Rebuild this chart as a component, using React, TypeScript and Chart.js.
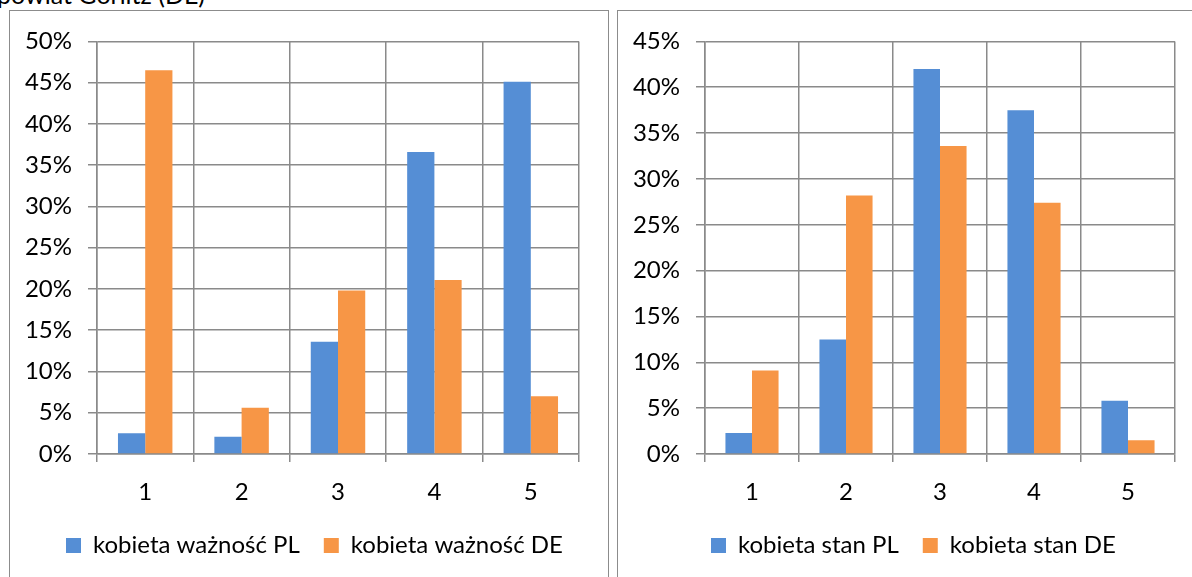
import React, { useEffect, useRef } from 'react';
import { Chart, registerables } from 'chart.js';

Chart.register(...registerables);

// ---- data ----
const categories = ['1', '2', '3', '4', '5'];
const importanceLabels = ['kobieta ważność PL', 'kobieta ważność DE'];
const importancePL = [2.5, 2.1, 13.6, 36.6, 45.1];
const importanceDE = [46.5, 5.6, 19.8, 21.1, 7.0];
const stateLabels = ['kobieta stan PL', 'kobieta stan DE'];
const statePL = [2.3, 12.5, 42.0, 37.5, 5.8];
const stateDE = [9.1, 28.2, 33.6, 27.4, 1.5];
const importanceMax = 50;
const stateMax = 45;
const tickStep = 5;
const caption = 'powiat Görlitz (DE)';

const BLUE = '#558ED5';
const ORANGE = '#F79646';
const GRID = '#8a8a8a';
const FONT = 'Lato';

type Cfg = {
  left: number;
  top: number;
  width: number;
  height: number;
  padTop: number;
  padBottom: number;
  yWidth: number;
  rightWidth: number;
  xHeight: number;
  legendDx: number;
};

// shifts the legend box horizontally after layout
const legendShift = {
  id: 'legendShift',
  afterLayout(chart: any, _args: any, opts: any) {
    const l = chart.legend;
    if (!l || !opts || !opts.dx) return;
    l.left += opts.dx;
    l.right += opts.dx;
  },
};

function BarChart({ labels, pl, de, max, cfg }: { labels: string[]; pl: number[]; de: number[]; max: number; cfg: Cfg }) {
  const ref = useRef<HTMLCanvasElement | null>(null);
  useEffect(() => {
    if (!ref.current) return;
    const chart = new Chart(ref.current, {
      type: 'bar',
      data: {
        labels: categories,
        datasets: [
          { label: labels[0], data: pl, backgroundColor: BLUE, borderWidth: 0, categoryPercentage: 0.565, barPercentage: 1 },
          { label: labels[1], data: de, backgroundColor: ORANGE, borderWidth: 0, categoryPercentage: 0.565, barPercentage: 1 },
        ],
      },
      plugins: [legendShift],
      options: {
        animation: false,
        responsive: false,
        maintainAspectRatio: false,
        layout: { padding: { left: 0, right: 0, top: cfg.padTop, bottom: cfg.padBottom } },
        plugins: {
          legendShift: { dx: cfg.legendDx },
          legend: {
            position: 'bottom',
            align: 'start',
            labels: {
              boxWidth: 15,
              boxHeight: 15,
              padding: 24,
              color: '#000',
              font: { family: FONT, size: 24 },
            },
          },
          tooltip: { enabled: false },
        },
        scales: {
          x: {
            grid: { color: GRID, lineWidth: 1.5, tickLength: 8, offset: true },
            border: { color: GRID, width: 1.5 },
            ticks: { color: '#000', font: { family: FONT, size: 24 }, padding: 16 },
            afterFit: (s: any) => {
              s.height = cfg.xHeight;
            },
          },
          y: {
            min: 0,
            max: max,
            ticks: {
              stepSize: tickStep,
              color: '#000',
              font: { family: FONT, size: 24 },
              padding: 16,
              callback: (v: any) => v + '%',
            },
            grid: { color: GRID, lineWidth: 1.5, tickLength: 9 },
            border: { color: GRID, width: 1.5 },
            afterFit: (s: any) => {
              s.width = cfg.yWidth;
            },
          },
          yR: {
            position: 'right',
            display: true,
            grid: { display: false, drawTicks: false },
            ticks: { display: false },
            border: { display: false },
            afterFit: (s: any) => {
              s.width = cfg.rightWidth;
            },
          },
        },
      } as any,
    });
    return () => chart.destroy();
  }, []);
  return (
    <canvas
      ref={ref}
      width={cfg.width}
      height={cfg.height}
      style={{ position: 'absolute', left: cfg.left, top: cfg.top, width: cfg.width, height: cfg.height }}
    />
  );
}

export default function App() {
  useEffect(() => {
    document.body.style.margin = '0';
  }, []);
  const leftCfg: Cfg = {
    left: 10, top: 11, width: 640, height: 566,
    padTop: 28, padBottom: 9.5,
    yWidth: 87, rightWidth: 640 - 569, xHeight: 55.5, legendDx: 32,
  };
  const rightCfg: Cfg = {
    left: 618, top: 11, width: 620, height: 566,
    padTop: 28, padBottom: 9.5,
    yWidth: 87, rightWidth: 620 - 557, xHeight: 55.5, legendDx: 69,
  };
  return (
    <div style={{ position: 'fixed', left: 0, top: 0, width: 1192, height: 577, overflow: 'hidden', background: '#fff' }}>
      <div
        style={{
          position: 'absolute', left: -3, top: -21, fontFamily: FONT, fontSize: 25, lineHeight: '30px',
          color: '#000', whiteSpace: 'nowrap',
        }}
      >
        {caption}
      </div>
      <div style={{ position: 'absolute', left: 9, top: 10, width: 600, height: 700, border: '1.5px solid #8c8c8c', boxSizing: 'border-box' }} />
      <div style={{ position: 'absolute', left: 617, top: 10, width: 700, height: 700, border: '1.5px solid #8c8c8c', boxSizing: 'border-box' }} />
      <BarChart labels={importanceLabels} pl={importancePL} de={importanceDE} max={importanceMax} cfg={leftCfg} />
      <BarChart labels={stateLabels} pl={statePL} de={stateDE} max={stateMax} cfg={rightCfg} />
    </div>
  );
}
